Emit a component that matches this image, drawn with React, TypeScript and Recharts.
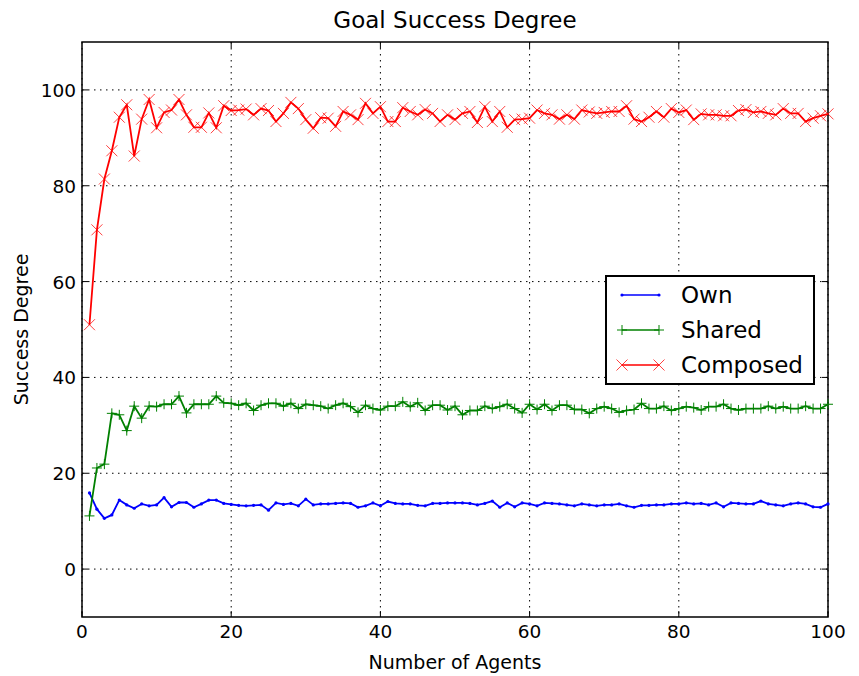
import { LineChart, Line, XAxis, YAxis, CartesianGrid, Legend, Label, ReferenceArea, ReferenceLine } from "recharts";

const ownValues = [
  15.9, 12.5, 10.6, 11.3, 14.4, 13.4, 12.7, 13.6, 13.2, 13.4,
  14.9, 13.0, 13.9, 13.9, 12.9, 13.6, 14.4, 14.4, 13.7, 13.5,
  13.3, 13.2, 13.3, 13.4, 12.3, 13.8, 13.5, 13.7, 13.2, 14.6,
  13.4, 13.6, 13.6, 13.7, 13.8, 13.7, 12.9, 13.2, 13.8, 13.2,
  14.1, 13.7, 13.6, 13.6, 13.3, 13.2, 13.7, 13.7, 13.8, 13.8,
  13.8, 13.7, 13.4, 13.7, 14.2, 12.9, 13.8, 13.0, 13.8, 13.6,
  13.2, 13.8, 13.7, 13.6, 13.4, 13.2, 13.6, 13.4, 13.2, 13.4,
  13.4, 13.6, 13.2, 12.9, 13.3, 13.3, 13.4, 13.4, 13.6, 13.6,
  13.8, 13.6, 13.7, 13.4, 13.8, 13.0, 13.8, 13.7, 13.6, 13.6,
  14.2, 13.6, 13.4, 13.2, 13.6, 13.8, 13.6, 13.0, 12.9, 13.6,
];

const sharedValues = [
  11.1, 21.1, 21.9, 32.5, 32.2, 28.9, 34.0, 31.5, 34.0, 33.9,
  34.4, 34.4, 36.1, 32.6, 34.4, 34.4, 34.4, 36.1, 34.7, 34.6,
  34.2, 34.6, 33.1, 34.2, 34.6, 34.6, 34.0, 34.6, 33.5, 34.4,
  34.2, 34.0, 33.5, 34.2, 34.6, 33.9, 32.7, 34.2, 33.5, 33.2,
  34.0, 34.0, 34.9, 33.9, 34.7, 33.1, 34.2, 34.2, 33.2, 34.0,
  32.2, 33.1, 33.1, 34.0, 33.5, 33.9, 34.4, 33.5, 32.6, 34.4,
  33.3, 34.4, 33.1, 34.2, 34.2, 33.3, 33.3, 32.5, 33.5, 33.9,
  33.5, 32.7, 33.1, 33.3, 34.6, 33.5, 33.5, 34.0, 33.1, 33.5,
  33.9, 33.7, 33.2, 33.9, 33.9, 34.4, 33.5, 33.2, 33.5, 33.5,
  33.5, 34.0, 33.5, 33.9, 33.5, 33.5, 34.0, 33.5, 33.5, 34.4,
];

const composedValues = [
  51.0, 70.8, 81.4, 87.3, 94.3, 96.9, 86.2, 93.9, 98.0, 92.1,
  95.3, 95.8, 98.0, 94.8, 92.2, 92.2, 95.2, 92.1, 96.7, 95.7,
  95.8, 96.0, 94.8, 96.1, 95.7, 93.4, 95.1, 97.4, 96.1, 93.8,
  92.0, 94.2, 94.1, 92.4, 95.5, 94.8, 93.8, 97.2, 95.1, 96.5,
  93.4, 93.4, 96.3, 95.5, 94.8, 95.9, 95.1, 93.4, 94.8, 93.8,
  95.1, 95.5, 93.2, 96.5, 93.4, 95.5, 92.2, 93.8, 93.9, 94.1,
  95.8, 95.1, 94.8, 93.9, 94.8, 93.9, 95.8, 95.4, 95.1, 95.3,
  95.5, 95.5, 96.7, 93.9, 93.4, 94.3, 95.5, 94.3, 96.1, 95.3,
  95.8, 93.8, 95.0, 94.8, 94.8, 94.6, 94.6, 95.7, 95.9, 95.3,
  95.5, 95.1, 94.8, 96.1, 95.1, 95.1, 93.4, 94.1, 94.6, 95.0,
];

const agents = ownValues.map((_, i) => i + 1);
const xTicks = [0, 20, 40, 60, 80, 100];
const yTicks = [0, 20, 40, 60, 80, 100];
const xDomain = [0, 100];
const yDomain = [-10, 110];

const seriesNames = ["Own", "Shared", "Composed"];
const seriesColors = ["#0000ff", "#008000", "#ff0000"];

const data = agents.map((x, i) => ({
  x,
  own: ownValues[i],
  shared: sharedValues[i],
  composed: composedValues[i],
}));

const FONT = "'DejaVu Sans', sans-serif";

function OwnDot(props: any) {
  const { cx, cy, index } = props;
  return <circle key={`o${index}`} cx={cx} cy={cy} r={1.6} fill="#0000ff" />;
}

function PlusDot(props: any) {
  const { cx, cy, index } = props;
  const s = 5;
  return (
    <path
      key={`p${index}`}
      d={`M${cx - s},${cy}H${cx + s}M${cx},${cy - s}V${cy + s}`}
      stroke="#008000"
      strokeWidth={1}
      fill="none"
    />
  );
}

function CrossDot(props: any) {
  const { cx, cy, index } = props;
  const s = 5.5;
  return (
    <path
      key={`c${index}`}
      d={`M${cx - s},${cy - s}L${cx + s},${cy + s}M${cx - s},${cy + s}L${cx + s},${cy - s}`}
      stroke="#ff0000"
      strokeOpacity={0.75}
      strokeWidth={1}
      fill="none"
    />
  );
}

// inward tick marks, labels outside
function BottomTick(props: any) {
  const { x, y, payload } = props;
  return (
    <g>
      <line x1={x} y1={y} x2={x} y2={y - 6} stroke="#000" strokeWidth={1} />
      <text x={x} y={y + 21} textAnchor="middle" fontSize={18.5} fontFamily={FONT} fill="#000">
        {payload.value}
      </text>
    </g>
  );
}

function LeftTick(props: any) {
  const { x, y, payload } = props;
  return (
    <g>
      <line x1={x} y1={y} x2={x + 6} y2={y} stroke="#000" strokeWidth={1} />
      <text x={x - 6} y={y + 7} textAnchor="end" fontSize={18.5} fontFamily={FONT} fill="#000">
        {payload.value}
      </text>
    </g>
  );
}

// mirrored ticks on the top and right edges of the frame
function TopTickMark(props: any) {
  const { x1, y1 } = props;
  if (x1 == null || y1 == null) return null;
  return <line x1={x1} y1={y1} x2={x1} y2={y1 + 6} stroke="#000" strokeWidth={1} />;
}

function RightTickMark(props: any) {
  const { x2, y2 } = props;
  if (x2 == null || y2 == null) return null;
  return <line x1={x2} y1={y2} x2={x2 - 6} y2={y2} stroke="#000" strokeWidth={1} />;
}

function LegendBox() {
  const markers = [
    (cx: number, cy: number) => <circle cx={cx} cy={cy} r={1.6} fill="#0000ff" />,
    (cx: number, cy: number) => (
      <path d={`M${cx - 5},${cy}H${cx + 5}M${cx},${cy - 5}V${cy + 5}`} stroke="#008000" strokeWidth={1} />
    ),
    (cx: number, cy: number) => (
      <path
        d={`M${cx - 5.5},${cy - 5.5}L${cx + 5.5},${cy + 5.5}M${cx - 5.5},${cy + 5.5}L${cx + 5.5},${cy - 5.5}`}
        stroke="#ff0000"
        strokeOpacity={0.75}
        strokeWidth={1}
      />
    ),
  ];
  return (
    <div style={{ width: 206, height: 106, border: "2px solid #000", background: "#fff" }}>
      <svg width={206} height={106}>
        {seriesNames.map((name, i) => {
          const cy = 18 + i * 35;
          return (
            <g key={name}>
              <line x1={15} y1={cy} x2={52} y2={cy} stroke={seriesColors[i]} strokeWidth={1.6} />
              {markers[i](15, cy)}
              {markers[i](52, cy)}
              <text x={74} y={cy + 8} fontSize={23} fontFamily={FONT} fill="#000">
                {name}
              </text>
            </g>
          );
        })}
      </svg>
    </div>
  );
}

export default function App() {
  return (
    <div style={{ position: "absolute", left: 0, top: 0, width: 859, height: 676, background: "#fff" }}>
      <div
        style={{
          position: "absolute",
          left: 82,
          top: 7,
          width: 746,
          textAlign: "center",
          fontFamily: FONT,
          fontSize: 23,
          lineHeight: "27px",
          color: "#000",
        }}
      >
        Goal Success Degree
      </div>
      <LineChart width={859} height={676} data={data} margin={{ top: 42, right: 31, bottom: 0, left: 0 }}>
        <CartesianGrid stroke="#000" strokeDasharray="1.5 4.5" strokeWidth={1} horizontalValues={yTicks} verticalValues={xTicks} />
        <XAxis
          dataKey="x"
          type="number"
          domain={xDomain}
          ticks={xTicks}
          height={59}
          tickSize={0}
          tickMargin={0}
          tickLine={false}
          tick={<BottomTick />}
          axisLine={false}
          interval={0}
        >
          <Label
            content={(p: any) => (
              <text
                x={p.viewBox.x + p.viewBox.width / 2}
                y={p.viewBox.y + 52}
                textAnchor="middle"
                fontSize={19}
                fontFamily={FONT}
                fill="#000"
              >
                Number of Agents
              </text>
            )}
          />
        </XAxis>
        <YAxis
          type="number"
          domain={yDomain}
          ticks={yTicks}
          width={82}
          tickSize={0}
          tickMargin={0}
          tickLine={false}
          tick={<LeftTick />}
          axisLine={false}
          interval={0}
        >
          <Label
            content={(p: any) => {
              const cx = p.viewBox.x + 28;
              const cy = p.viewBox.y + p.viewBox.height / 2;
              return (
                <text
                  x={cx}
                  y={cy}
                  transform={`rotate(-90 ${cx} ${cy})`}
                  textAnchor="middle"
                  fontSize={19}
                  fontFamily={FONT}
                  fill="#000"
                >
                  Success Degree
                </text>
              );
            }}
          />
        </YAxis>
        {xTicks.slice(1, -1).map((t) => (
          <ReferenceLine
            key={`tx${t}`}
            segment={[
              { x: t, y: yDomain[1] },
              { x: t, y: yDomain[0] },
            ]}
            shape={<TopTickMark />}
          />
        ))}
        {yTicks.map((t) => (
          <ReferenceLine
            key={`ty${t}`}
            segment={[
              { x: xDomain[0], y: t },
              { x: xDomain[1], y: t },
            ]}
            shape={<RightTickMark />}
          />
        ))}
        <Legend
          layout="vertical"
          align="center"
          verticalAlign="middle"
          wrapperStyle={{ left: 605, top: 275, width: 210 }}
          content={() => <LegendBox />}
        />
        <Line
          type="linear"
          dataKey="own"
          name={seriesNames[0]}
          stroke={seriesColors[0]}
          strokeWidth={1.8}
          dot={<OwnDot />}
          activeDot={false}
          isAnimationActive={false}
        />
        <Line
          type="linear"
          dataKey="shared"
          name={seriesNames[1]}
          stroke={seriesColors[1]}
          strokeWidth={1.8}
          dot={<PlusDot />}
          activeDot={false}
          isAnimationActive={false}
        />
        <Line
          type="linear"
          dataKey="composed"
          name={seriesNames[2]}
          stroke={seriesColors[2]}
          strokeWidth={1.8}
          dot={<CrossDot />}
          activeDot={false}
          isAnimationActive={false}
        />
        <ReferenceArea
          x1={xDomain[0]}
          x2={xDomain[1]}
          y1={yDomain[0]}
          y2={yDomain[1]}
          fill="none"
          fillOpacity={0}
          stroke="#000"
          strokeWidth={1.5}
        />
      </LineChart>
    </div>
  );
}
